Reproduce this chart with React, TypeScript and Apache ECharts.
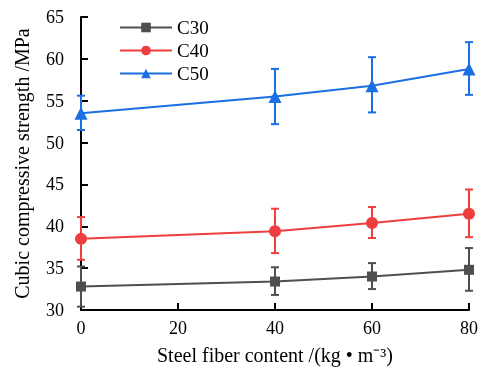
import React, { useEffect, useRef } from "react";
import * as echarts from "echarts";

const fiberContent = [0, 40, 60, 80];
const c30Mean = [32.8, 33.4, 34.0, 34.8];
const c30Upper = [35.2, 35.1, 35.6, 37.4];
const c30Lower = [30.4, 31.8, 32.5, 32.3];
const c40Mean = [38.5, 39.4, 40.4, 41.5];
const c40Upper = [41.1, 42.1, 42.3, 44.4];
const c40Lower = [36.0, 36.8, 38.6, 38.7];
const c50Mean = [53.5, 55.5, 56.8, 58.8];
const c50Upper = [55.6, 58.8, 60.2, 62.0];
const c50Lower = [51.5, 52.2, 53.6, 55.7];
const xTicks = [0, 20, 40, 60, 80];
const yTicks = [30, 35, 40, 45, 50, 55, 60, 65];

const FONT = "Liberation Serif";

type S = { name: string; color: string; symbol: string; size: number; mean: number[]; up: number[]; lo: number[] };
const seriesDefs: S[] = [
  { name: "C30", color: "#4f4f4f", symbol: "rect", size: 10, mean: c30Mean, up: c30Upper, lo: c30Lower },
  { name: "C40", color: "#ef3e3e", symbol: "circle", size: 12, mean: c40Mean, up: c40Upper, lo: c40Lower },
  { name: "C50", color: "#1c6fe3", symbol: "triangle", size: 13, mean: c50Mean, up: c50Upper, lo: c50Lower },
];

export default function App() {
  const ref = useRef<HTMLDivElement>(null);
  useEffect(() => {
    if (!ref.current) return;
    document.body.style.overflow = "hidden";
    const chart = echarts.init(ref.current, null, { renderer: "svg" });
    const series: any[] = [];
    seriesDefs.forEach((s) => {
      series.push({
        type: "custom",
        z: 1,
        silent: true,
        data: fiberContent.map((x, i) => [x, s.lo[i], s.up[i]]),
        renderItem: (params: any, api: any) => {
          const x = api.value(0);
          const lo = api.coord([x, api.value(1)]);
          const hi = api.coord([x, api.value(2)]);
          const w = 4;
          const style = { stroke: s.color, lineWidth: 2 };
          return {
            type: "group",
            children: [
              { type: "line", shape: { x1: lo[0], y1: lo[1], x2: hi[0], y2: hi[1] }, style },
              { type: "line", shape: { x1: hi[0] - w, y1: hi[1], x2: hi[0] + w, y2: hi[1] }, style },
              { type: "line", shape: { x1: lo[0] - w, y1: lo[1], x2: lo[0] + w, y2: lo[1] }, style },
            ],
          };
        },
      });
    });
    seriesDefs.forEach((s) => {
      series.push({
        type: "line",
        name: s.name,
        z: 3,
        data: fiberContent.map((x, i) => [x, s.mean[i]]),
        symbol: s.symbol,
        symbolSize: s.size,
        showAllSymbol: true,
        lineStyle: { color: s.color, width: 2 },
        itemStyle: { color: s.color },
      });
    });
    const tick = { fontFamily: FONT, fontSize: 18, color: "#000" };
    const title = { fontFamily: FONT, fontSize: 20, color: "#000" };
    chart.setOption({
      animation: false,
      textStyle: { fontFamily: FONT },
      grid: { left: 81, right: 12, top: 17, bottom: 68, containLabel: false },
      legend: {
        data: seriesDefs.map((s) => s.name),
        orient: "vertical",
        left: 114,
        top: 13,
        itemWidth: 52,
        itemHeight: 12,
        itemGap: 4,
        textStyle: { fontFamily: FONT, fontSize: 19, color: "#000" },
      },
      xAxis: {
        type: "value",
        min: 0,
        max: 80,
        interval: 20,
        name: "Steel fiber content /(kg • m⁻³)",
        nameLocation: "middle",
        nameGap: 35,
        nameTextStyle: title,
        axisLine: { show: true, lineStyle: { color: "#000", width: 2 } },
        axisTick: { show: true, inside: true, length: 7, lineStyle: { color: "#000", width: 2 } },
        axisLabel: {
          ...tick,
          margin: 9,
          formatter: (v: number) => (xTicks.includes(v) ? String(v) : ""),
        },
        splitLine: { show: false },
      },
      yAxis: {
        type: "value",
        min: 30,
        max: 65,
        interval: 5,
        name: "Cubic compressive strength /MPa",
        nameLocation: "middle",
        nameGap: 49,
        nameTextStyle: title,
        axisLine: { show: true, lineStyle: { color: "#000", width: 2 } },
        axisTick: { show: true, inside: true, length: 7, lineStyle: { color: "#000", width: 2 } },
        axisLabel: {
          ...tick,
          margin: 17,
          formatter: (v: number) => (yTicks.includes(v) ? String(v) : ""),
        },
        splitLine: { show: false },
      },
      series,
    });
    return () => chart.dispose();
  }, []);
  return <div ref={ref} style={{ position: "fixed", left: 0, top: 0, width: 481, height: 378 }} />;
}
